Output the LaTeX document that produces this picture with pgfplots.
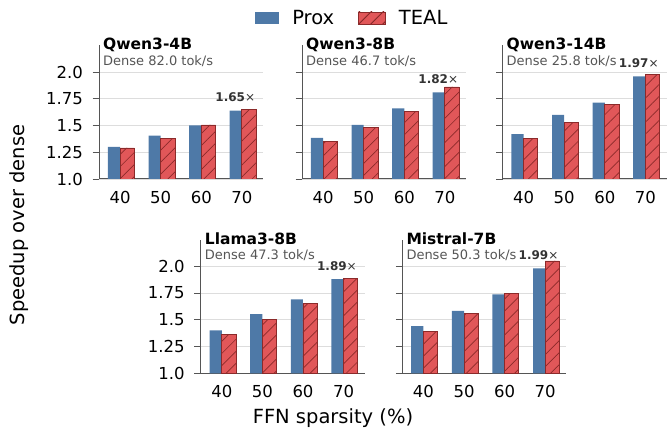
\documentclass[border=0pt]{standalone}
\usepackage{pgfplots}
\pgfplotsset{compat=1.18}
\usepackage{pgfplotstable}
\usepackage{fontspec}
\setmainfont{DejaVu Sans}
\usetikzlibrary{patterns.meta}
\definecolor{proxblue}{HTML}{4E79A7}
\definecolor{tealred}{HTML}{E15759}
\definecolor{edgered}{HTML}{8B2A2A}
\definecolor{spine}{HTML}{555555}
\definecolor{gridc}{HTML}{DDDDDD}
\definecolor{subgray}{HTML}{555555}
\definecolor{anngray}{HTML}{333333}

\pgfplotstableread{
x p t
0 1.30 1.29
1 1.405 1.38
2 1.50 1.505
3 1.64 1.65
}\tA
\pgfplotstableread{
x p t
0 1.385 1.35
1 1.505 1.48
2 1.66 1.63
3 1.81 1.86
}\tB
\pgfplotstableread{
x p t
0 1.42 1.377
1 1.60 1.53
2 1.713 1.70
3 1.96 1.98
}\tC
\pgfplotstableread{
x p t
0 1.40 1.365
1 1.553 1.506
2 1.69 1.656
3 1.88 1.89
}\tD
\pgfplotstableread{
x p t
0 1.44 1.39
1 1.584 1.56
2 1.737 1.75
3 1.98 2.05
}\tE

\pgfplotsset{
 panel/.style={
  scale only axis, width=164pt, height=133.75pt,
  xmin=-0.52, xmax=3.52, ymin=1, ymax=2.25,
  axis x line*=bottom, axis y line*=left,
  xtick={0,1,2,3}, xticklabels={40,50,60,70},
  ytick={1,1.25,1.5,1.75,2},
  ymajorgrids, grid style={gridc, line width=0.8pt},
  major x tick style={draw=none},
  major y tick style={spine, line width=0.9pt},
  major tick length=6.5pt, tick align=outside,
  axis line style={spine, line width=1pt},
  tick label style={font=\fontsize{16.5}{18}\selectfont, text=black},
  xticklabel style={yshift=-2pt},
  yticklabel style={xshift=-6pt},
  clip mode=individual,
 },
 proxbar/.style={ybar, bar width=0.30, bar shift=-0.15, fill=proxblue, draw=none,
   legend image code/.code={\fill[proxblue] (0pt,-6pt) rectangle (24pt,6pt);}},
 tealbar/.style={ybar, bar width=0.35, bar shift=0.175, fill=tealred, draw=edgered, line width=0.8pt,
   postaction={pattern={Lines[angle=45,distance=8.5pt,line width=0.7pt]}, pattern color=edgered},
   legend image code/.code={\draw[fill=tealred, draw=edgered, line width=0.8pt,
      postaction={pattern={Lines[angle=45,distance=8.5pt,line width=0.7pt]}, pattern color=edgered}]
      (0pt,-6pt) rectangle (27pt,6pt);}},
}
\tikzset{
 ttl/.style={inner sep=0pt, anchor=base west, xshift=4pt, yshift=-4.75pt, font=\bfseries\fontsize{15.5}{17}\selectfont, text=black},
 sub/.style={inner sep=0pt, anchor=base west, xshift=4pt, yshift=-20.4pt, font=\fontsize{13}{15}\selectfont, text=subgray},
 ann/.style={inner sep=0pt, anchor=base east, font=\fontsize{12}{14}\selectfont, text=anngray},
}

\begin{document}
\begin{tikzpicture}[x=1pt,y=1pt]
\useasboundingbox (0,0) rectangle (670,431);

% Qwen3-4B
\begin{axis}[panel, at={(99pt,252pt)}, anchor=south west,
  yticklabels={1.0,1.25,1.5,1.75,2.0},
  legend columns=2,
  legend style={at={(1.551,1.204)}, anchor=center, draw=none, fill=none,
    font=\fontsize{19.5}{21}\selectfont,
    nodes={inner sep=4pt},
    /tikz/every odd column/.append style={column sep=9pt},
    /tikz/every even column/.append style={column sep=20pt}},
  ]
\addplot[proxbar] table[x=x,y=p]{\tA};
\addlegendentry{Prox}
\addplot[tealbar] table[x=x,y=t]{\tA};
\addlegendentry{TEAL}
\node[ttl] at (rel axis cs:0,1) {Qwen3-4B};
\node[sub] at (rel axis cs:0,1) {Dense 82.0 tok/s};
\node[ann] at (axis cs:3.33,1.72) {\textbf{1.65}×};
\end{axis}

% Qwen3-8B
\begin{axis}[panel, at={(302pt,252pt)}, anchor=south west, yticklabels={}]
\addplot[proxbar] table[x=x,y=p]{\tB};
\addplot[tealbar] table[x=x,y=t]{\tB};
\node[ttl] at (rel axis cs:0,1) {Qwen3-8B};
\node[sub] at (rel axis cs:0,1) {Dense 46.7 tok/s};
\node[ann] at (axis cs:3.33,1.89) {\textbf{1.82}×};
\end{axis}

% Qwen3-14B
\begin{axis}[panel, at={(502.5pt,252pt)}, anchor=south west, yticklabels={}]
\addplot[proxbar] table[x=x,y=p]{\tC};
\addplot[tealbar] table[x=x,y=t]{\tC};
\node[ttl] at (rel axis cs:0,1) {Qwen3-14B};
\node[sub] at (rel axis cs:0,1) {Dense 25.8 tok/s};
\node[ann] at (axis cs:3.33,2.04) {\textbf{1.97}×};
\end{axis}

% Llama3-8B
\begin{axis}[panel, at={(200.7pt,57.7pt)}, anchor=south west,
  yticklabels={1.0,1.25,1.5,1.75,2.0}]
\addplot[proxbar] table[x=x,y=p]{\tD};
\addplot[tealbar] table[x=x,y=t]{\tD};
\node[ttl] at (rel axis cs:0,1) {Llama3-8B};
\node[sub] at (rel axis cs:0,1) {Dense 47.3 tok/s};
\node[ann] at (axis cs:3.33,1.96) {\textbf{1.89}×};
\end{axis}

% Mistral-7B
\begin{axis}[panel, at={(402.3pt,57.7pt)}, anchor=south west, yticklabels={}]
\addplot[proxbar] table[x=x,y=p]{\tE};
\addplot[tealbar] table[x=x,y=t]{\tE};
\node[ttl] at (rel axis cs:0,1) {Mistral-7B};
\node[sub] at (rel axis cs:0,1) {Dense 50.3 tok/s};
\node[ann] at (axis cs:3.33,2.06) {\textbf{1.99}×};
\end{axis}

\node[rotate=90, font=\fontsize{19.5}{21}\selectfont] at (19,206) {Speedup over dense};
\node[anchor=base, font=\fontsize{19.5}{21}\selectfont] at (333,7) {FFN sparsity (\%)};
\end{tikzpicture}
\end{document}
